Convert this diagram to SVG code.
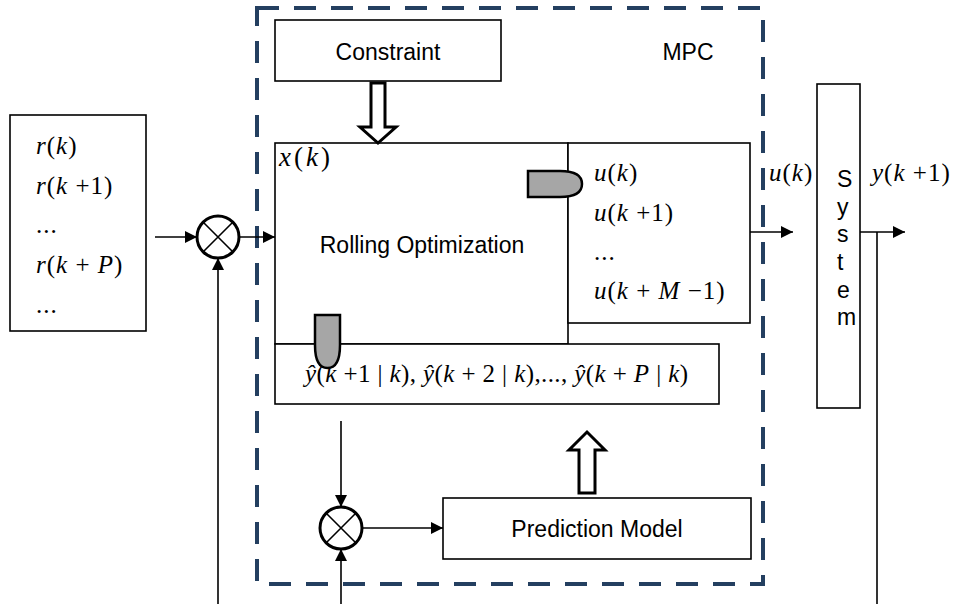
<svg xmlns="http://www.w3.org/2000/svg" width="953" height="604" viewBox="0 0 953 604">
<defs>
<style>
.box{fill:#fff;stroke:#000;stroke-width:1.6}
.lbl{font-family:"Liberation Sans",Arial,sans-serif;font-size:23px;fill:#000}
.m{font-family:"Liberation Serif","Times New Roman",serif;font-size:25px;letter-spacing:1px;fill:#000}
.i{font-style:italic}
.ln{fill:none;stroke:#000;stroke-width:1.6}
.hollow{fill:#fff;stroke:#000;stroke-width:3}
.bullet{fill:#a6a6a6;stroke:#000;stroke-width:2.5}
.sum{fill:#fff;stroke:#000;stroke-width:3}
</style>
<marker id="ah" markerWidth="12" markerHeight="12" refX="12" refY="6" orient="auto" markerUnits="userSpaceOnUse">
<path d="M0,0 L12,6 L0,12 Z" fill="#000"/>
</marker>
</defs>
<rect width="953" height="604" fill="#fff"/>

<g id="mpc-frame">
<rect x="257" y="8" width="506" height="576" fill="none" stroke="#243F60" stroke-width="4" stroke-dasharray="22 15"/>
<text class="lbl" x="688" y="60" text-anchor="middle">MPC</text>
</g>

<g id="reference">
<rect class="box" x="10" y="115" width="136" height="216"/>
<text class="m" x="36" y="154"><tspan class="i">r</tspan>(<tspan class="i">k</tspan>)</text>
<text class="m" x="36" y="194"><tspan class="i">r</tspan>(<tspan class="i">k</tspan> +1)</text>
<text class="m" x="36" y="233">...</text>
<text class="m" x="36" y="273"><tspan class="i">r</tspan>(<tspan class="i">k</tspan> + <tspan class="i">P</tspan>)</text>
<text class="m" x="36" y="313">...</text>
</g>

<g id="constraint">
<rect class="box" x="275" y="20" width="226" height="61"/>
<text class="lbl" x="388" y="60" text-anchor="middle">Constraint</text>
</g>

<g id="rolling-optimization">
<rect class="box" x="275" y="143" width="293" height="201"/>
<text class="m" x="279" y="166" style="font-size:27px;letter-spacing:3px"><tspan class="i">x</tspan>(<tspan class="i">k</tspan>)</text>
<text class="lbl" x="422" y="253" text-anchor="middle">Rolling Optimization</text>
</g>

<g id="control-sequence">
<rect class="box" x="568" y="143" width="182" height="180"/>
<text class="m" x="594" y="181"><tspan class="i">u</tspan>(<tspan class="i">k</tspan>)</text>
<text class="m" x="594" y="221"><tspan class="i">u</tspan>(<tspan class="i">k</tspan> +1)</text>
<text class="m" x="594" y="260">...</text>
<text class="m" x="594" y="299"><tspan class="i">u</tspan>(<tspan class="i">k</tspan> + <tspan class="i">M</tspan> −1)</text>
</g>

<g id="predicted-output">
<rect class="box" x="275" y="344" width="444" height="60"/>
<text class="m" x="305" y="382" style="letter-spacing:0.4px"><tspan class="i">ŷ</tspan>(<tspan class="i">k</tspan> +1 | <tspan class="i">k</tspan>), <tspan class="i">ŷ</tspan>(<tspan class="i">k</tspan> + 2 | <tspan class="i">k</tspan>),..., <tspan class="i">ŷ</tspan>(<tspan class="i">k</tspan> + <tspan class="i">P</tspan> | <tspan class="i">k</tspan>)</text>
</g>

<g id="bullets">
<path class="bullet" d="M528,171 L560,171 Q582,171 582,184 Q582,197 560,197 L528,197 Z"/>
<path class="bullet" d="M315,315 L340,315 L340,345 Q340,368 327.5,368 Q315,368 315,345 Z"/>
</g>

<g id="prediction-model">
<rect class="box" x="443" y="498" width="308" height="61"/>
<text class="lbl" x="597" y="537" text-anchor="middle">Prediction Model</text>
</g>

<g id="system">
<rect class="box" x="817" y="84" width="43" height="324"/>
<g class="lbl">
<text x="837" y="187">S</text>
<text x="837" y="215">y</text>
<text x="837" y="242">s</text>
<text x="837" y="270">t</text>
<text x="837" y="298">e</text>
<text x="837" y="325">m</text>
</g>
</g>

<g id="sum-left">
<circle class="sum" cx="218" cy="237" r="21"/>
<path class="ln" stroke-width="3" d="M203,222 L233,252 M233,222 L203,252"/>
</g>

<g id="sum-bottom">
<circle class="sum" cx="341" cy="528" r="21"/>
<path class="ln" stroke-width="3" d="M326,513 L356,543 M356,513 L326,543"/>
</g>

<g id="connectors">
<line class="ln" x1="155" y1="237" x2="197" y2="237" marker-end="url(#ah)"/>
<line class="ln" x1="239" y1="237" x2="275" y2="237" marker-end="url(#ah)"/>
<line class="ln" x1="218" y1="604" x2="218" y2="258" marker-end="url(#ah)"/>
<line class="ln" x1="341" y1="421" x2="341" y2="507" marker-end="url(#ah)"/>
<line class="ln" x1="341" y1="604" x2="341" y2="549" marker-end="url(#ah)"/>
<line class="ln" x1="362" y1="528" x2="443" y2="528" marker-end="url(#ah)"/>
<line class="ln" x1="750" y1="232" x2="793" y2="232" marker-end="url(#ah)"/>
<line class="ln" x1="860" y1="232" x2="905" y2="232" marker-end="url(#ah)"/>
<line class="ln" x1="877" y1="232" x2="877" y2="604"/>
<path class="hollow" d="M371,83 H385 V127 H396 L378,143 L360,127 H371 Z"/>
<path class="hollow" d="M579,493 V450 H569 L587,432 L605,450 H595 V493 Z"/>
<text class="m" x="769" y="181"><tspan class="i">u</tspan>(<tspan class="i">k</tspan>)</text>
<text class="m" x="872" y="181"><tspan class="i">y</tspan>(<tspan class="i">k</tspan> +1)</text>
</g>
</svg>
